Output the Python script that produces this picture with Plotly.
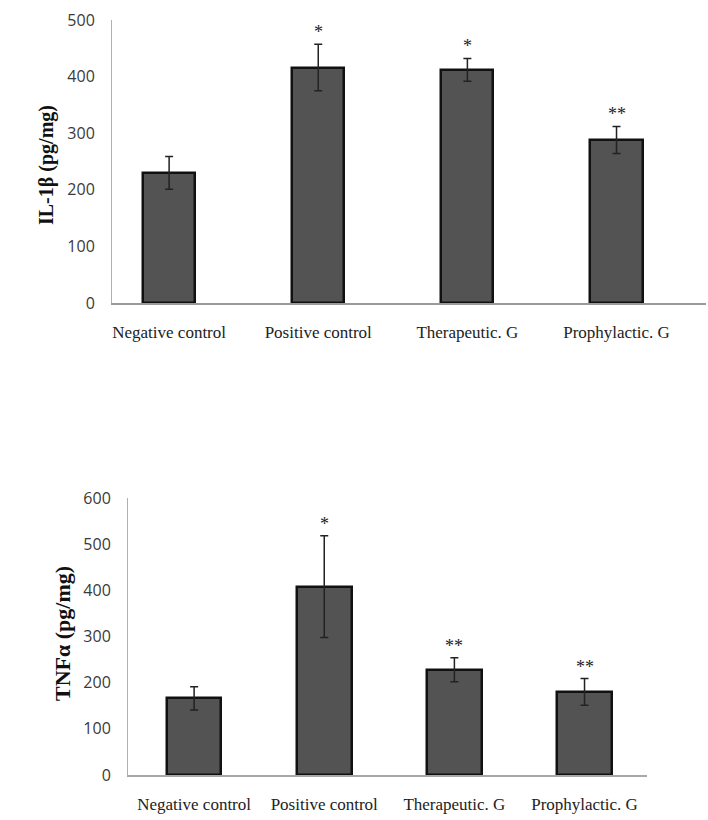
import plotly.graph_objects as go

categories = ["Negative control", "Positive control", "Therapeutic. G", "Prophylactic. G"]
il1b_values = [230, 416, 412, 288]
il1b_errors = [29, 41, 20, 24]
il1b_marks = ["", "*", "*", "**"]
tnfa_values = [166, 408, 228, 180]
tnfa_errors = [25, 110, 26, 29]
tnfa_marks = ["", "*", "**", "**"]

W, H = 708, 820
BAR = "#535353"
EDGE = "#111111"

fig = go.Figure()

def add_panel(vals, errs, marks, xa, ya, width):
    fig.add_trace(go.Bar(
        x=list(range(len(categories))), y=vals, xaxis=xa, yaxis=ya,
        width=width,
        marker=dict(color=BAR, line=dict(color=EDGE, width=2.5)),
        error_y=dict(type="data", array=errs, visible=True, color="#222222",
                     thickness=1.5, width=4),
        showlegend=False, hoverinfo="skip"))
    for i, (v, e, m) in enumerate(zip(vals, errs, marks)):
        if m:
            fig.add_annotation(x=i, y=v + e, xref=xa, yref=ya, text=m,
                               showarrow=False, yanchor="bottom", yshift=0,
                               font=dict(family="Liberation Serif", size=18, color="#222"))

add_panel(il1b_values, il1b_errors, il1b_marks, "x", "y", 0.35)
add_panel(tnfa_values, tnfa_errors, tnfa_marks, "x2", "y2", 0.42)

tickfont = dict(family="Open Sans", size=16, color="#3a3a3a")
catfont = dict(family="Liberation Serif", size=17, color="#222")

fig.update_layout(
    width=W, height=H, margin=dict(l=0, r=0, t=0, b=0, autoexpand=False),
    plot_bgcolor="white", paper_bgcolor="white",
    bargap=0,
    xaxis=dict(domain=[112 / W, 706 / W], range=[-0.383, 3.6], anchor="y",
               tickvals=list(range(4)), ticktext=categories, tickfont=catfont,
               showline=True, linecolor="#9a9a9a", linewidth=1.5, showgrid=False,
               ticks="", ticklabelstandoff=13, zeroline=False, automargin=False),
    yaxis=dict(domain=[1 - 303 / H, 1 - 20 / H], range=[0, 500], anchor="x",
               tickvals=[0, 100, 200, 300, 400, 500], tickfont=tickfont,
               showline=True, linecolor="#b0b0b0", linewidth=1, showgrid=False,
               ticks="", ticklabelstandoff=13, zeroline=False, automargin=False),
    xaxis2=dict(domain=[128 / W, 647 / W], range=[-0.508, 3.48], anchor="y2",
                tickvals=list(range(4)), ticktext=categories, tickfont=catfont,
                showline=True, linecolor="#a8a8a8", linewidth=2, showgrid=False,
                ticks="", ticklabelstandoff=13, zeroline=False, automargin=False),
    yaxis2=dict(domain=[1 - 775 / H, 1 - 498 / H], range=[0, 600], anchor="x2",
                tickvals=[0, 100, 200, 300, 400, 500, 600], tickfont=tickfont,
                showline=True, linecolor="#b0b0b0", linewidth=1, showgrid=False,
                ticks="", ticklabelstandoff=13, zeroline=False, automargin=False),
)

fig.add_annotation(x=47 / W, y=1 - 165 / H, xref="paper", yref="paper",
                   xanchor="center", yanchor="middle",
                   text="<b>IL-1β (pg/mg)</b>", textangle=-90, showarrow=False,
                   font=dict(family="Liberation Serif", size=20, color="#111"))
fig.add_annotation(x=62 / W, y=1 - 634 / H, xref="paper", yref="paper",
                   xanchor="center", yanchor="middle",
                   text="<b>TNFα (pg/mg)</b>", textangle=-90, showarrow=False,
                   font=dict(family="Liberation Serif", size=22, color="#111"))

fig.write_html("out.html", config={"displayModeBar": False},
               post_script="document.body.style.margin='0';document.body.style.padding='0';")
